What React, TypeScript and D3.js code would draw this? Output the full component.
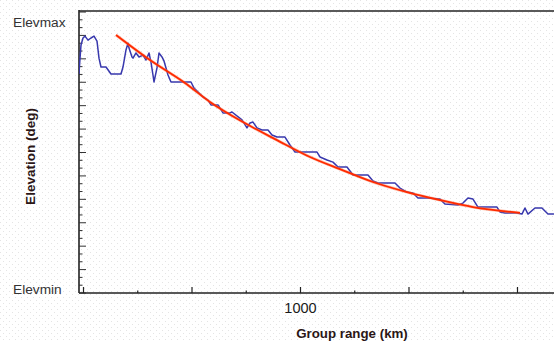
import React from "react";
import * as d3 from "d3";

// Measured elevation track (km, relative elevation units 0..12)
const measuredRange = [-21, -16, -11.5, -2.3, 6.9, 20.7, 34.6, 48.4, 62.2, 71.4, 80.6, 103.7, 126.7, 172.8, 182, 195.8, 205, 209.7, 223.5, 228.1, 241.9, 255.7, 274.2, 288, 301.8, 311, 320.2, 324.8, 338.7, 347.9, 361.7, 370.9, 389.4, 403.2, 463.1, 495.4, 509.2, 532.2, 550.7, 573.7, 587.5, 610.6, 619.8, 642.8, 675.1, 684.3, 730.4, 753.4, 767.2, 781.1, 799.5, 822.5, 850.2, 868.6, 891.7, 928.5, 951.6, 974.6, 1006.9, 1076, 1089.8, 1122.1, 1149.7, 1172.8, 1214.2, 1241.9, 1311, 1334, 1357.1, 1435.4, 1458.4, 1490.7, 1518.3, 1541.4, 1582.8, 1642.7, 1665.8, 1725.7, 1748.7, 1771.8, 1794.8, 1817.8, 1905.4, 1919.2, 1942.2, 1997.5, 2020.6, 2034.4, 2048.2, 2080.5, 2112.7, 2140.4, 2168];
const measuredElev = [9.35, 10.03, 10.59, 10.89, 10.97, 10.8, 10.89, 10.97, 10.76, 10.03, 9.65, 9.65, 9.35, 9.35, 9.65, 10.38, 10.67, 10.46, 10.08, 10.03, 10.25, 10.08, 10.16, 9.95, 10.25, 9.86, 9.31, 9.01, 9.61, 10.25, 10.08, 9.91, 9.31, 9.01, 9.01, 9.01, 8.75, 8.54, 8.37, 8.24, 8.03, 8.03, 8.03, 7.69, 7.69, 7.73, 7.39, 7.05, 7.26, 7.3, 7.05, 6.96, 6.96, 6.75, 6.66, 6.66, 6.32, 6.02, 6.02, 6.02, 5.81, 5.68, 5.59, 5.38, 5.38, 5.04, 5.04, 4.78, 4.7, 4.7, 4.48, 4.31, 4.27, 4.06, 4.06, 4.01, 3.8, 3.76, 3.84, 4.06, 4.01, 3.67, 3.67, 3.46, 3.42, 3.42, 3.37, 3.63, 3.37, 3.63, 3.63, 3.37, 3.37];

// Fitted curve
const fitRange = [149.8, 306.4, 467.7, 582.9, 735, 891.7, 1043.7, 1182, 1334, 1490.7, 1642.7, 1794.8, 2011.3];
const fitElev = [11.02, 9.95, 8.97, 8.16, 7.3, 6.53, 5.81, 5.29, 4.74, 4.31, 3.97, 3.67, 3.42];

const xMajorTicks = [0, 500, 1000, 1500, 2000];
const xMinorTicks = [250, 750, 1250, 1750];
const xTickLabels = ["", "", "1000", "", ""];
const yTickCount = 36; // minor steps of 1/3 unit
const yTopLabel = "Elevmax";
const yBottomLabel = "Elevmin";
const yTitle = "Elevation (deg)";
const xTitle = "Group range (km)";

export default function App() {
  const W = 554, H = 341;
  const left = 79, right = 554, top = 11, bottom = 293;
  const x = d3.scaleLinear().domain([0, 2000]).range([83.5, 517.5]);
  const y = d3.scaleLinear().domain([0, 12]).range([bottom, 12]);

  const measured = measuredRange.map((r, i) => [r, measuredElev[i]] as [number, number]);
  const fit = fitRange.map((r, i) => [r, fitElev[i]] as [number, number]);

  const lineM = d3.line<[number, number]>().x(d => x(d[0])).y(d => y(d[1]));
  const lineF = d3
    .line<[number, number]>()
    .x(d => x(d[0]))
    .y(d => y(d[1]))
    .curve(d3.curveMonotoneX);

  const yTicks = d3.range(0, yTickCount + 1).map(k => k / 3);

  return (
    <svg
      width={W}
      height={H}
      style={{ position: "absolute", left: 0, top: 0, background: "#fff" }}
      fontFamily="'Liberation Sans', Arial, sans-serif"
    >
      <defs>
        <pattern id="dots" width="6" height="6" patternUnits="userSpaceOnUse">
          <rect x="0" y="0" width="1" height="1" fill="#e4e4e4" />
          <rect x="3" y="3" width="1" height="1" fill="#e4e4e4" />
        </pattern>
        <clipPath id="plot">
          <rect x={left} y={top} width={right - left} height={bottom - top} />
        </clipPath>
      </defs>
      <rect x={0} y={0} width={W} height={H} fill="#fff" />
      <rect x={0} y={0} width={W} height={H} fill="url(#dots)" />

      {/* frame */}
      <line x1={left} x2={right} y1={top} y2={top} stroke="#5a5a5a" strokeWidth={2} />
      <line x1={left} x2={left} y1={10} y2={bottom} stroke="#222" strokeWidth={1.6} />
      <line x1={left} x2={right} y1={bottom} y2={bottom} stroke="#222" strokeWidth={1.6} />

      {/* y ticks */}
      {yTicks.map((v, k) => (
        <line
          key={"yt" + k}
          x1={left}
          x2={k % 3 === 0 ? left + 7 : left + 3.5}
          y1={y(v)}
          y2={y(v)}
          stroke="#333"
          strokeWidth={1}
        />
      ))}

      {/* x ticks */}
      {xMajorTicks.map((v, i) => (
        <line key={"xM" + i} x1={x(v)} x2={x(v)} y1={bottom} y2={bottom - 6} stroke="#222" strokeWidth={1.2} />
      ))}
      {xMinorTicks.map((v, i) => (
        <line key={"xm" + i} x1={x(v)} x2={x(v)} y1={bottom} y2={bottom - 2.5} stroke="#222" strokeWidth={1.2} />
      ))}
      {xMajorTicks.map((v, i) =>
        xTickLabels[i] ? (
          <text key={"xl" + i} x={x(v)} y={313} textAnchor="middle" fontSize={14.5} fill="#1a1a1a">
            {xTickLabels[i]}
          </text>
        ) : null
      )}

      {/* data */}
      <g clipPath="url(#plot)">
        <path d={lineM(measured) || ""} fill="none" stroke="#3838ad" strokeWidth={1.5} strokeLinejoin="round" />
        <path d={lineF(fit) || ""} fill="none" stroke="#ff7a50" strokeWidth={3} strokeOpacity={0.45} />
        <path d={lineF(fit) || ""} fill="none" stroke="#ff2a00" strokeWidth={1.8} />
      </g>

      {/* labels */}
      <text x={13} y={27} fontSize={13.7} fill="#333">{yTopLabel}</text>
      <text x={13} y={294} fontSize={13.7} fill="#333">{yBottomLabel}</text>
      <text
        transform="translate(35,156.5) rotate(-90)"
        textAnchor="middle"
        fontSize={13.5}
        fontWeight="bold"
        fill="#2b1616"
      >
        {yTitle}
      </text>
      <text x={352} y={338} textAnchor="middle" fontSize={13.3} fontWeight="bold" fill="#2b1616">
        {xTitle}
      </text>
    </svg>
  );
}
